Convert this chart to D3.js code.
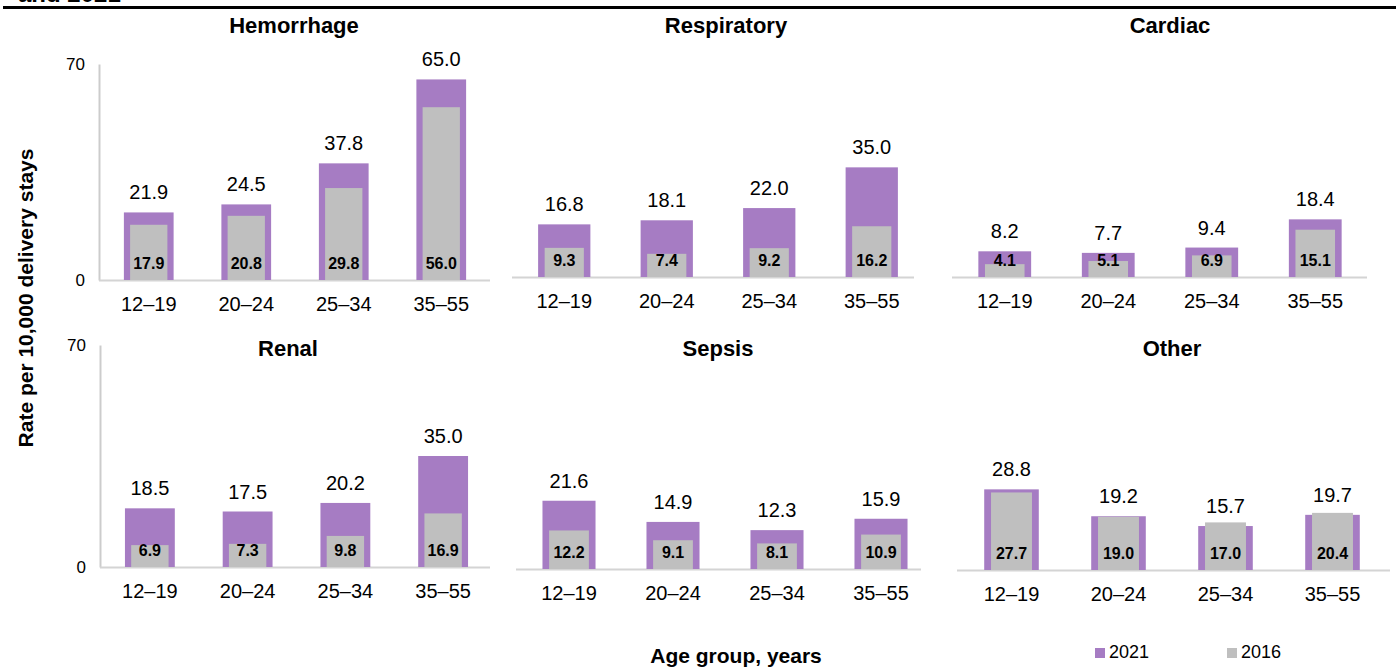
<!DOCTYPE html>
<html>
<head>
<meta charset="utf-8">
<script src="https://cdn.jsdelivr.net/npm/d3@7"></script>
<style>
  html, body { margin: 0; padding: 0; background: #fff; }
  svg { display: block; font-family: "Liberation Sans", Arial, sans-serif; }
</style>
</head>
<body>
<svg id="chart" width="1396" height="670"></svg>
<script>
// Age groups shown on every panel
const ageGroups = ["12–19", "20–24", "25–34", "35–55"];
const yTicks = [0, 70];

// Rates per 10,000 delivery stays, by condition and year
const hemorrhage2021 = [21.9, 24.5, 37.8, 65.0];
const hemorrhage2016 = [17.9, 20.8, 29.8, 56.0];
const respiratory2021 = [16.8, 18.1, 22.0, 35.0];
const respiratory2016 = [9.3, 7.4, 9.2, 16.2];
const cardiac2021 = [8.2, 7.7, 9.4, 18.4];
const cardiac2016 = [4.1, 5.1, 6.9, 15.1];
const renal2021 = [18.5, 17.5, 20.2, 35.0];
const renal2016 = [6.9, 7.3, 9.8, 16.9];
const sepsis2021 = [21.6, 14.9, 12.3, 15.9];
const sepsis2016 = [12.2, 9.1, 8.1, 10.9];
const other2021 = [28.8, 19.2, 15.7, 19.7];
const other2016 = [27.7, 19.0, 17.0, 20.4];

const panelTitles = ["Hemorrhage", "Respiratory", "Cardiac", "Renal", "Sepsis", "Other"];
const series2021 = [hemorrhage2021, respiratory2021, cardiac2021, renal2021, sepsis2021, other2021];
const series2016 = [hemorrhage2016, respiratory2016, cardiac2016, renal2016, sepsis2016, other2016];
const yMax = [70, 70, 70, 70, 70, 80];

const legendYears = ["2021", "2016"];
const colors = { "2021": "#a67cc3", "2016": "#bfbfbf" };

// Panel frames: x extent of the bands, y of baseline and of the axis maximum
const frames = [
  { x0: 100, x1: 490, lineEnd: 490, base: 280, top: 64, tx: 294, ty: 33, yAxis: true },
  { x0: 513, x1: 923, lineEnd: 914, base: 277, top: 57.7, tx: 726, ty: 33, yAxis: false },
  { x0: 953, x1: 1367, lineEnd: 1367, base: 277, top: 57.7, tx: 1170, ty: 33, yAxis: false },
  { x0: 101, x1: 492, lineEnd: 490, base: 567, top: 345, tx: 288, ty: 356, yAxis: true },
  { x0: 517, x1: 933, lineEnd: 921, base: 569, top: 347.8, tx: 718, ty: 356, yAxis: false },
  { x0: 958, x1: 1386, lineEnd: 1390, base: 570, top: 346, tx: 1172, ty: 356, yAxis: false }
];

const svg = d3.select("#chart");

// Header remnant and rule
svg.append("text")
  .attr("x", 18).attr("y", 2)
  .attr("font-size", 24).attr("font-weight", "bold").attr("fill", "#000")
  .text("and 2021");
svg.append("line")
  .attr("x1", 3).attr("x2", 1396).attr("y1", 7.5).attr("y2", 7.5)
  .attr("stroke", "#000").attr("stroke-width", 3);

frames.forEach((f, i) => {
  const g = svg.append("g");
  const x = d3.scaleBand().domain(ageGroups).range([f.x0, f.x1])
    .paddingInner(0.49).paddingOuter(0.245);
  const y = d3.scaleLinear().domain([0, yMax[i]]).range([f.base, f.top]);
  const bw = x.bandwidth();

  const rows = ageGroups.map((a, k) => ({ age: a, v21: series2021[i][k], v16: series2016[i][k] }));

  // Title
  g.append("text")
    .attr("x", f.tx).attr("y", f.ty)
    .attr("text-anchor", "middle")
    .attr("font-size", 22).attr("font-weight", "bold")
    .text(panelTitles[i]);

  // Axes
  if (f.yAxis) {
    const ya = g.append("g")
      .attr("transform", `translate(${f.x0 - 1},0)`)
      .call(d3.axisLeft(y).tickValues(yTicks).tickSize(0).tickPadding(14));
    ya.attr("font-size", null).attr("font-family", null);
    ya.select(".domain").attr("stroke", "#cccccc").attr("stroke-width", 2);
    ya.selectAll("text").style("font-size", "17px").attr("fill", "#000");
  }

  const xa = g.append("g")
    .attr("transform", `translate(0,${f.base})`)
    .call(d3.axisBottom(x).tickSize(0).tickPadding(17));
  xa.attr("font-size", null).attr("font-family", null);
  xa.select(".domain").remove();
  xa.selectAll("text").style("font-size", "20px").attr("fill", "#000");

  g.append("line")
    .attr("x1", f.x0 - 1).attr("x2", f.lineEnd)
    .attr("y1", f.base + 0.5).attr("y2", f.base + 0.5)
    .attr("stroke", "#d4d4d4").attr("stroke-width", 2);

  // 2021 bars (wide)
  g.selectAll("rect.y2021").data(rows).join("rect")
    .attr("class", "y2021")
    .attr("x", d => x(d.age)).attr("width", bw)
    .attr("y", d => y(d.v21)).attr("height", d => y(0) - y(d.v21))
    .attr("fill", colors["2021"]);

  // 2016 bars (narrow, drawn in front)
  g.selectAll("rect.y2016").data(rows).join("rect")
    .attr("class", "y2016")
    .attr("x", d => x(d.age) + bw * 0.125).attr("width", bw * 0.75)
    .attr("y", d => y(d.v16)).attr("height", d => y(0) - y(d.v16))
    .attr("fill", colors["2016"]);

  // 2021 value labels above bars
  g.selectAll("text.v21").data(rows).join("text")
    .attr("class", "v21")
    .attr("x", d => x(d.age) + bw / 2)
    .attr("y", d => y(d.v21) - 13)
    .attr("text-anchor", "middle")
    .attr("font-size", 20).attr("fill", "#000")
    .text(d => d.v21.toFixed(1));

  // 2016 value labels near the base
  g.selectAll("text.v16").data(rows).join("text")
    .attr("class", "v16")
    .attr("x", d => x(d.age) + bw / 2)
    .attr("y", y(0) - 11.5)
    .attr("text-anchor", "middle")
    .attr("font-size", 16).attr("font-weight", "bold").attr("fill", "#000")
    .text(d => d.v16.toFixed(1));
});

// Shared axis titles
svg.append("text")
  .attr("transform", "translate(33,298) rotate(-90)")
  .attr("text-anchor", "middle")
  .attr("font-size", 21).attr("font-weight", "bold")
  .text("Rate per 10,000 delivery stays");

svg.append("text")
  .attr("x", 736).attr("y", 663)
  .attr("text-anchor", "middle")
  .attr("font-size", 21).attr("font-weight", "bold")
  .text("Age group, years");

// Legend
const legendX = [1095, 1227];
legendYears.forEach((yr, k) => {
  svg.append("rect")
    .attr("x", legendX[k]).attr("y", 648).attr("width", 10).attr("height", 10)
    .attr("fill", colors[yr]);
  svg.append("text")
    .attr("x", legendX[k] + 14).attr("y", 658)
    .attr("font-size", 18).attr("fill", "#000")
    .text(yr);
});
</script>
</body>
</html>
